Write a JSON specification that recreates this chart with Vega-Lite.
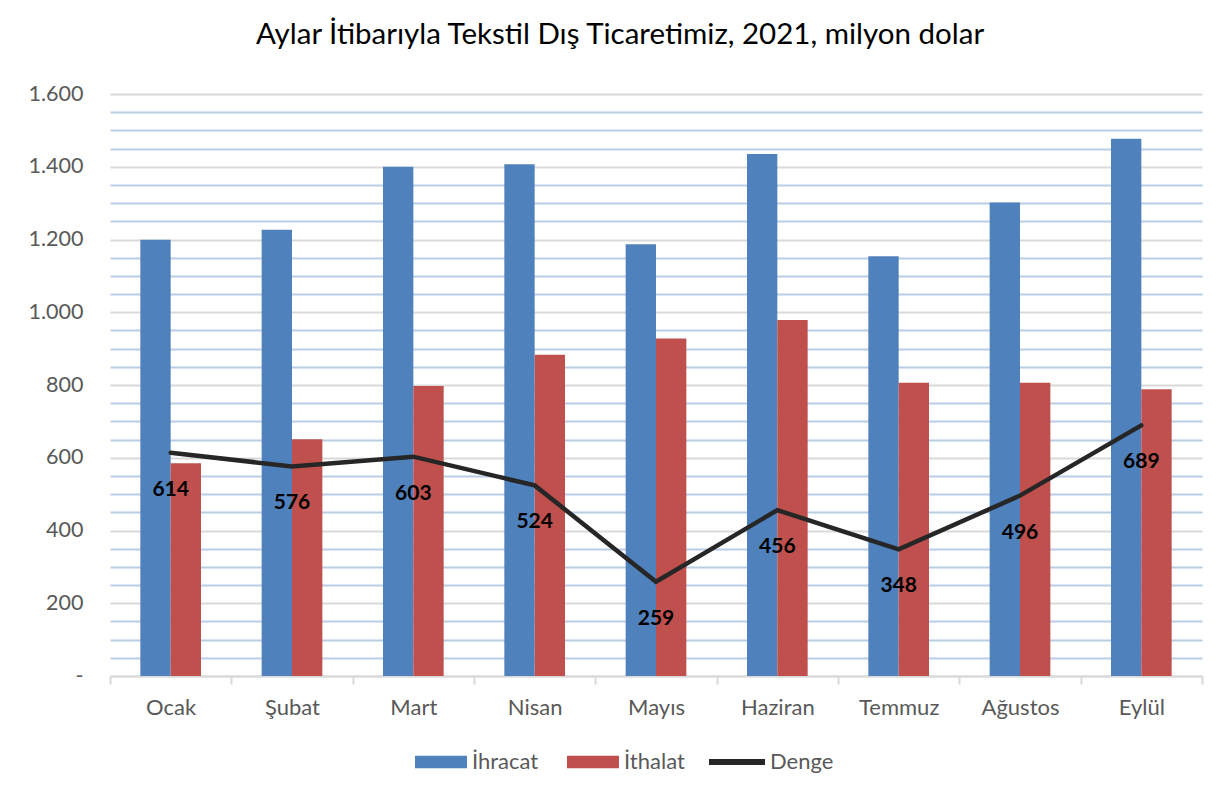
{
  "$schema": "https://vega.github.io/schema/vega-lite/v6.json",
  "autosize": "none",
  "width": 1092,
  "height": 582,
  "padding": {"left": 110, "top": 94, "right": 27, "bottom": 118},
  "background": "white",
  "title": {
    "text": "Aylar İtibarıyla Tekstil Dış Ticaretimiz, 2021, milyon dolar",
    "font": "Lato",
    "fontSize": 29.5,
    "fontWeight": "normal",
    "color": "#000000",
    "anchor": "middle",
    "dx": -36,
    "offset": 33
  },
  "config": {
    "view": {"stroke": null},
    "font": "Lato"
  },
  "data": {
    "values": [
      {"ay": "Ocak", "İhracat": 1199, "İthalat": 585, "Denge": 614},
      {"ay": "Şubat", "İhracat": 1227, "İthalat": 651, "Denge": 576},
      {"ay": "Mart", "İhracat": 1400, "İthalat": 797, "Denge": 603},
      {"ay": "Nisan", "İhracat": 1407, "İthalat": 883, "Denge": 524},
      {"ay": "Mayıs", "İhracat": 1187, "İthalat": 928, "Denge": 259},
      {"ay": "Haziran", "İhracat": 1435, "İthalat": 979, "Denge": 456},
      {"ay": "Temmuz", "İhracat": 1154, "İthalat": 806, "Denge": 348},
      {"ay": "Ağustos", "İhracat": 1302, "İthalat": 806, "Denge": 496},
      {"ay": "Eylül", "İhracat": 1477, "İthalat": 788, "Denge": 689}
    ]
  },
  "encoding": {
    "x": {
      "field": "ay",
      "type": "nominal",
      "sort": null,
      "scale": {"paddingInner": 0, "paddingOuter": 0},
      "axis": {
        "title": null,
        "labelAngle": 0,
        "labelFont": "Lato",
        "labelFontSize": 22,
        "labelColor": "#595959",
        "labelPadding": 13,
        "domainColor": "#d9d9d9",
        "domainWidth": 2,
        "tickColor": "#d9d9d9",
        "tickWidth": 2,
        "tickSize": 8,
        "tickBand": "extent",
        "grid": false
      }
    }
  },
  "layer": [
    {
      "transform": [{"fold": ["İhracat", "İthalat"], "as": ["seri", "deger"]}],
      "mark": {"type": "bar"},
      "encoding": {
        "xOffset": {
          "field": "seri",
          "type": "nominal",
          "scale": {"paddingInner": 0, "paddingOuter": 1.1}
        },
        "y": {
          "field": "deger",
          "type": "quantitative",
          "title": null,
          "scale": {"domain": [0, 1600], "nice": false},
          "axis": {
            "title": null,
            "values": [0, 50, 100, 150, 200, 250, 300, 350, 400, 450, 500, 550, 600, 650, 700, 750, 800, 850, 900, 950, 1000, 1050, 1100, 1150, 1200, 1250, 1300, 1350, 1400, 1450, 1500, 1550, 1600],
            "labelExpr": "datum.value % 200 == 0 ? (datum.value == 0 ? '-\u00a0\u00a0\u00a0' : replace(format(datum.value, ','), ',', '.')) : ''",
            "labelOverlap": false,
            "labelFont": "Lato",
            "labelFontSize": 21.5,
            "labelColor": "#595959",
            "labelPadding": 27,
            "ticks": false,
            "tickSize": 0,
            "domain": false,
            "grid": true,
            "gridWidth": 2,
            "gridColor": {
              "condition": {"test": "datum.value % 200 == 0", "value": "#d9d9d9"},
              "value": "#b9cde5"
            }
          }
        },
        "color": {
          "field": "seri",
          "type": "nominal",
          "scale": {
            "domain": ["İhracat", "İthalat", "Denge"],
            "range": ["#4f81bd", "#c0504d", "#262626"]
          },
          "legend": {
            "orient": "none",
            "legendX": 301,
            "legendY": 640,
            "direction": "horizontal",
            "title": null,
            "labelFont": "Lato",
            "labelFontSize": 22,
            "labelColor": "#595959",
            "labelOffset": 5,
            "columnPadding": 24,
            "symbolSize": 3136,
            "symbolType": "M-0.857,-0.223L1,-0.223L1,0.223L-0.857,0.223Z",
            "symbolStrokeWidth": 0,
            "encode": {
              "symbols": {
                "update": {
                  "shape": {"signal": "datum.value === 'Denge' ? 'M-1,-0.107L1,-0.107L1,0.107L-1,0.107Z' : 'M-0.857,-0.223L1,-0.223L1,0.223L-0.857,0.223Z'"},
                  "fill": {"scale": "color", "field": "value"},
                  "opacity": {"value": 1},
                  "strokeWidth": {"value": 0}
                }
              }
            }
          }
        }
      }
    },
    {
      "mark": {"type": "line", "strokeWidth": 4.5, "strokeCap": "round", "strokeJoin": "miter"},
      "encoding": {
        "y": {
          "field": "Denge",
          "type": "quantitative",
          "title": null,
          "axis": {
            "title": null,
            "values": [0, 50, 100, 150, 200, 250, 300, 350, 400, 450, 500, 550, 600, 650, 700, 750, 800, 850, 900, 950, 1000, 1050, 1100, 1150, 1200, 1250, 1300, 1350, 1400, 1450, 1500, 1550, 1600],
            "labelExpr": "datum.value % 200 == 0 ? (datum.value == 0 ? '-\u00a0\u00a0\u00a0' : replace(format(datum.value, ','), ',', '.')) : ''",
            "labelOverlap": false,
            "labelFont": "Lato",
            "labelFontSize": 21.5,
            "labelColor": "#595959",
            "labelPadding": 27,
            "ticks": false,
            "tickSize": 0,
            "domain": false,
            "grid": true,
            "gridWidth": 2,
            "gridColor": {
              "condition": {"test": "datum.value % 200 == 0", "value": "#d9d9d9"},
              "value": "#b9cde5"
            }
          }
        },
        "color": {"datum": "Denge"}
      }
    },
    {
      "mark": {"type": "text", "dy": 37, "fontSize": 21, "fontWeight": "bold", "font": "Lato", "color": "#000000"},
      "encoding": {
        "y": {
          "field": "Denge",
          "type": "quantitative",
          "title": null,
          "axis": {
            "title": null,
            "values": [0, 50, 100, 150, 200, 250, 300, 350, 400, 450, 500, 550, 600, 650, 700, 750, 800, 850, 900, 950, 1000, 1050, 1100, 1150, 1200, 1250, 1300, 1350, 1400, 1450, 1500, 1550, 1600],
            "labelExpr": "datum.value % 200 == 0 ? (datum.value == 0 ? '-\u00a0\u00a0\u00a0' : replace(format(datum.value, ','), ',', '.')) : ''",
            "labelOverlap": false,
            "labelFont": "Lato",
            "labelFontSize": 21.5,
            "labelColor": "#595959",
            "labelPadding": 27,
            "ticks": false,
            "tickSize": 0,
            "domain": false,
            "grid": true,
            "gridWidth": 2,
            "gridColor": {
              "condition": {"test": "datum.value % 200 == 0", "value": "#d9d9d9"},
              "value": "#b9cde5"
            }
          }
        },
        "text": {"field": "Denge", "type": "quantitative"}
      }
    }
  ]
}
